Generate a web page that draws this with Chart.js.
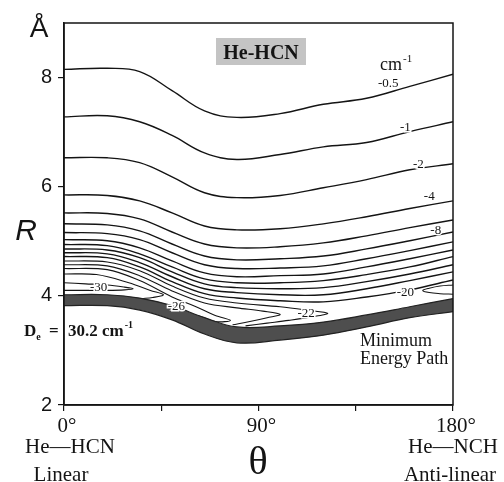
<!DOCTYPE html>
<html lang="en">
<head>
<meta charset="UTF-8">
<title>He-HCN potential energy surface</title>
<script src="https://cdn.jsdelivr.net/npm/chart.js"></script>
<style>
  body { margin: 0; background: #fff; }
  #wrap { width: 504px; height: 482px; }
</style>
</head>
<body>
<div id="wrap"><canvas id="pes" width="504" height="482"></canvas></div>
<script>
// angle samples (deg) shared by the open contours
const theta = [0, 20, 35, 50, 65, 80, 100, 120, 140, 160, 180];

// open contours, R in Angstrom, one array per level (cm-1)
const cm0_5 = [8.15, 8.17, 8.11, 7.76, 7.39, 7.27, 7.34, 7.51, 7.62, 7.84, 8.06];
const cm1   = [7.28, 7.30, 7.19, 6.94, 6.62, 6.50, 6.59, 6.73, 6.81, 7.01, 7.19];
const cm2   = [6.53, 6.53, 6.44, 6.18, 5.89, 5.80, 5.84, 5.98, 6.13, 6.31, 6.42];
const cm4   = [5.85, 5.84, 5.74, 5.52, 5.28, 5.21, 5.23, 5.32, 5.45, 5.60, 5.74];
const cm6   = [5.52, 5.51, 5.41, 5.17, 4.95, 4.88, 4.90, 4.97, 5.10, 5.25, 5.39];
const cm8   = [5.32, 5.30, 5.19, 4.95, 4.73, 4.66, 4.68, 4.73, 4.86, 5.01, 5.17];
const cm10  = [5.16, 5.14, 5.03, 4.79, 4.57, 4.50, 4.51, 4.55, 4.68, 4.83, 4.99];
const cm12  = [5.03, 5.01, 4.88, 4.64, 4.42, 4.35, 4.37, 4.40, 4.53, 4.68, 4.84];
const cm14  = [4.94, 4.92, 4.77, 4.53, 4.31, 4.24, 4.24, 4.28, 4.39, 4.53, 4.72];
const cm16  = [4.86, 4.84, 4.70, 4.44, 4.22, 4.15, 4.13, 4.15, 4.26, 4.40, 4.57];
const cm18  = [4.79, 4.77, 4.61, 4.35, 4.13, 4.06, 4.02, 4.02, 4.13, 4.28, 4.44];
const cm20  = [4.72, 4.70, 4.53, 4.26, 4.04, 3.96, 3.91, 3.89, 3.98, 4.11, 4.29];

// minimum energy path band (upper and lower edge)
const mepTop    = [4.02, 4.02, 3.96, 3.82, 3.60, 3.43, 3.45, 3.52, 3.65, 3.80, 3.95];
const mepBottom = [3.82, 3.82, 3.74, 3.56, 3.30, 3.14, 3.19, 3.28, 3.43, 3.60, 3.71];

// tongues of the deeper levels: upper branch out to the tip, back down into the band
const t22Theta = [0, 20, 35, 50, 65, 80, 100, 112, 122, 114, 104, 94, 84];
const t22R     = [4.64, 4.62, 4.46, 4.18, 3.96, 3.87, 3.80, 3.74, 3.68, 3.61, 3.55, 3.50, 3.45];
const t24Theta = [0, 20, 35, 50, 65, 80, 92, 100, 94, 86, 78];
const t24R     = [4.57, 4.55, 4.37, 4.09, 3.87, 3.78, 3.72, 3.66, 3.60, 3.53, 3.47];
const t26Theta = [0, 20, 35, 50, 60, 70, 77, 70, 62];
const t26R     = [4.50, 4.48, 4.28, 3.98, 3.82, 3.64, 3.55, 3.53, 3.64];
const t28Theta = [0, 15, 30, 40, 46, 41, 36];
const t28R     = [4.40, 4.39, 4.24, 4.10, 4.02, 3.97, 3.95];
// -30 island and the small tongue at the anti-linear end, closed loops
const t30Theta = [0, 10, 20, 28, 32, 28, 20, 10, 0];
const t30R     = [4.24, 4.22, 4.20, 4.16, 4.13, 4.11, 4.10, 4.10, 4.10];
const tEndTheta = [180, 174, 169, 166, 169, 174, 180];
const tEndR     = [4.20, 4.18, 4.14, 4.10, 4.06, 4.04, 4.03];

// contour labels
const labelText  = ['-0.5', '-1', '-2', '-4', '-8', '-20', '-22', '-26', '-30'];
const labelTheta = [150, 158, 164, 169, 172, 158, 112, 52, 16];
const labelR     = [7.89, 7.08, 6.40, 5.82, 5.19, 4.06, 3.67, 3.80, 4.15];

// ticks
const xTicks = [0, 45, 90, 135, 180];
const xTickText = ['0°', '', '90°', '', '180°'];
const yTicks = [2, 4, 6, 8];

const INK = '#141414';
const SERIF = '"Liberation Serif", "DejaVu Serif", serif';
const SANS = '"Liberation Sans", Arial, sans-serif';

const pts = (xs, ys) => xs.map((v, i) => ({ x: v, y: ys[i] }));
const contour = arr => ({
    data: pts(theta, arr), borderColor: INK, borderWidth: 1.4,
    pointRadius: 0, tension: 0.4, fill: false
});
const loop = (xs, ys) => ({
    data: pts(xs, ys), borderColor: INK, borderWidth: 1.1,
    pointRadius: 0, tension: 0.35, fill: false
});

const datasets = [
    { data: pts(theta, mepTop), borderColor: '#222', borderWidth: 1.2, pointRadius: 0, tension: 0.4, fill: false },
    { data: pts(theta, mepBottom), borderColor: '#222', borderWidth: 1.2, pointRadius: 0, tension: 0.4,
      fill: '-1', backgroundColor: '#4e4e4e' },
    ...[cm0_5, cm1, cm2, cm4, cm6, cm8, cm10, cm12, cm14, cm16, cm18, cm20].map(contour),
    loop(t22Theta, t22R), loop(t24Theta, t24R), loop(t26Theta, t26R),
    loop(t28Theta, t28R), loop(t30Theta, t30R), loop(tEndTheta, tEndR)
];

function text(ctx, s, x, y, font, align) {
    ctx.font = font;
    ctx.textAlign = align || 'left';
    ctx.fillText(s, x, y);
    return x + ctx.measureText(s).width;
}

const overlay = {
    id: 'overlay',
    afterDatasetsDraw(chart) {
        const { ctx, scales: { x, y } } = chart;
        ctx.save();
        ctx.textBaseline = 'middle';
        ctx.font = '13px ' + SERIF;
        ctx.textAlign = 'center';
        labelText.forEach((t, i) => {
            const px = x.getPixelForValue(labelTheta[i]);
            const py = y.getPixelForValue(labelR[i]);
            ctx.lineWidth = 3; ctx.strokeStyle = '#fff';
            ctx.strokeText(t, px, py);
            ctx.fillStyle = INK;
            ctx.fillText(t, px, py);
        });
        ctx.restore();
    },
    afterDraw(chart) {
        const { ctx, chartArea: a, scales: { x } } = chart;
        ctx.save();
        ctx.strokeStyle = INK;
        ctx.lineWidth = 1.5;
        ctx.strokeRect(a.left, a.top, a.right - a.left, a.bottom - a.top);

        ctx.fillStyle = INK;
        ctx.textBaseline = 'alphabetic';

        // x tick labels
        xTicks.forEach((v, i) => {
            if (xTickText[i]) text(ctx, xTickText[i], x.getPixelForValue(v) + 3, 432, '21px ' + SERIF, 'center');
        });

        // axis names
        text(ctx, 'Å', 39, 37, '28px ' + SANS, 'center');
        text(ctx, 'R', 26, 240, 'italic 30px ' + SANS, 'center');
        text(ctx, 'θ', 258, 474, '40px ' + SERIF, 'center');
        text(ctx, 'He—HCN', 70, 453, '21px ' + SERIF, 'center');
        text(ctx, 'Linear', 61, 481, '21px ' + SERIF, 'center');
        text(ctx, 'He—NCH', 453, 453, '21px ' + SERIF, 'center');
        text(ctx, 'Anti-linear', 450, 481, '21px ' + SERIF, 'center');

        // title box
        ctx.fillStyle = '#c4c4c4';
        ctx.fillRect(216, 38, 90, 27);
        ctx.fillStyle = INK;
        text(ctx, 'He-HCN', 261, 59, 'bold 20px ' + SERIF, 'center');

        // units
        let end = text(ctx, 'cm', 380, 70, '18px ' + SERIF);
        text(ctx, '-1', end + 1, 62, '11px ' + SERIF);

        // well depth
        end = text(ctx, 'D', 24, 336, 'bold 17px ' + SERIF);
        text(ctx, 'e', end, 340, 'bold 10px ' + SERIF);
        text(ctx, '=', 49, 336, 'bold 17px ' + SERIF);
        end = text(ctx, '30.2 cm', 68, 336, 'bold 17px ' + SERIF);
        text(ctx, '-1', end + 1, 328, 'bold 10px ' + SERIF);

        // MEP annotation
        text(ctx, 'Minimum', 360, 346, '18px ' + SERIF);
        text(ctx, 'Energy Path', 360, 364, '18px ' + SERIF);
        ctx.restore();
    }
};

new Chart(document.getElementById('pes'), {
    type: 'line',
    data: { datasets: datasets },
    options: {
        responsive: false,
        animation: false,
        events: [],
        devicePixelRatio: 1,
        layout: { padding: { left: 0, right: 51, top: 23, bottom: 0 } },
        plugins: { legend: { display: false }, tooltip: { enabled: false } },
        scales: {
            x: {
                type: 'linear', min: 0, max: 180,
                afterBuildTicks: s => { s.ticks = xTicks.map(v => ({ value: v })); },
                afterFit: s => { s.height = 77; },
                ticks: { display: false },
                grid: { display: true, drawOnChartArea: false, drawTicks: true, tickLength: 6, color: INK, lineWidth: 1.2 },
                border: { display: true, color: INK, width: 1.5 }
            },
            y: {
                type: 'linear', min: 2, max: 9,
                afterBuildTicks: s => { s.ticks = yTicks.map(v => ({ value: v })); },
                afterFit: s => { s.width = 64; },
                ticks: { display: true, padding: 6, color: INK, font: { family: SANS, size: 20 } },
                grid: { display: true, drawOnChartArea: false, drawTicks: true, tickLength: 6, color: INK, lineWidth: 1.2 },
                border: { display: true, color: INK, width: 1.5 }
            }
        }
    },
    plugins: [overlay]
});
</script>
</body>
</html>
